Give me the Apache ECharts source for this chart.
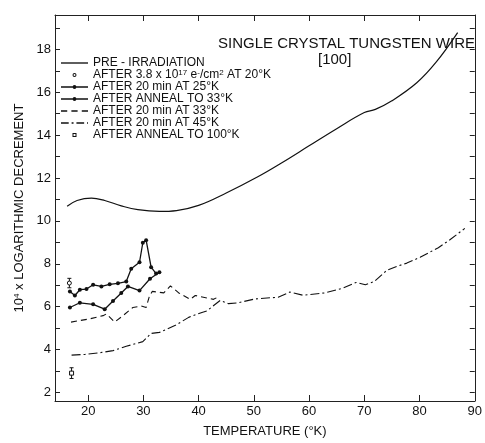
<!DOCTYPE html>
<html>
<head>
<meta charset="utf-8">
<script src="https://cdn.jsdelivr.net/npm/echarts@6/dist/echarts.min.js"></script>
<style>
html,body{margin:0;padding:0;background:#fff}
#main{width:485px;height:443px}
</style>
</head>
<body>
<div id="main"></div>
<script>
// temperature (K), 10^4 x log decrement
var preIrr = [[16.2,10.68],[18,10.95],[20.6,11.06],[23,10.95],[26,10.7],[29,10.52],[32.9,10.44],[36,10.48],[40,10.72],[45,11.3],[50.8,12.07],[55,12.7],[60,13.5],[65,14.3],[70,15.05],[72,15.2],[75,15.6],[79.5,16.44],[83,17.4],[86.9,18.78]];
var after25 = [[16.7,6.71],[17.6,6.52],[18.5,6.79],[19.7,6.82],[20.9,7.02],[22.4,6.94],[23.9,7.04],[25.4,7.09],[26.9,7.17],[27.8,7.77],[29.3,8.07],[29.9,8.98],[30.5,9.1],[31.4,7.84],[32.3,7.54]];
var anneal33 = [[16.7,5.96],[18.5,6.18],[20.9,6.11],[23,5.88],[24.5,6.26],[26,6.64],[27.2,6.94],[29.3,6.75],[31.2,7.3],[32.9,7.6]];
var after33 = [[16.9,5.28],[20.3,5.43],[22.7,5.58],[23.3,5.66],[24.8,5.28],[26.3,5.58],[28.1,5.96],[29.6,6.03],[30.5,5.96],[31.1,6.49],[31.6,6.71],[33.7,6.64],[34.9,6.97],[36.4,6.64],[38.5,6.34],[39.4,6.52],[42.7,6.34],[43.6,6.46]];
var after45 = [[17,3.74],[19.4,3.77],[22.1,3.85],[24.5,3.95],[26.9,4.15],[29.9,4.37],[31.4,4.75],[32.9,4.8],[35.8,5.13],[38.2,5.5],[40.6,5.73],[41.5,5.8],[43.9,6.29],[45.4,6.14],[47.2,6.18],[50.2,6.36],[54.4,6.44],[56.5,6.68],[58.9,6.53],[62.8,6.64],[66.1,6.86],[68.5,7.13],[70.2,7.02],[71.8,7.17],[74.1,7.7],[75.9,7.88],[77.7,8.03],[80.1,8.3],[83.4,8.75],[85.5,9.12],[88.2,9.65]];
// x, y, low, high
var irrPoint = [[16.6,7.1,6.88,7.32]];
var anneal100Point = [[17,2.9,2.65,3.15]];

var xTicks = [20,30,40,50,60,70,80,90];
var yTicks = [2,3,4,5,6,7,8,9,10,11,12,13,14,15,16,17,18,19];
var yLabels = [2,4,6,8,10,12,14,16,18];

var names = ['PRE - IRRADIATION',
    'AFTER 3.8 x 10{s|17} e{s|-}/cm{s|2} AT 20°K',
    'AFTER 20 min AT 25°K',
    'AFTER ANNEAL TO 33°K',
    'AFTER 20 min AT 33°K',
    'AFTER 20 min AT 45°K',
    'AFTER ANNEAL TO 100°K'];

// legend samples
var icoSolid = 'path://M0,0h28v1.4h-28z';
var icoDot = 'path://M0,1.3h28v1.4h-28z M12,2a2,2 0 1,1 4,0a2,2 0 1,1 -4,0z';
var icoDash = 'path://M0,0h6v1.4h-6z M10,0h6v1.4h-6z M20,0h6v1.4h-6z';
var icoDashDot = 'path://M0,0h8v1.4h-8z M11,0h2v1.4h-2z M16,0h8v1.4h-8z M27,0h1v1.4h-1z';
var icoCircle = 'path://M0,2a2,2 0 1,1 4,0a2,2 0 1,1 -4,0z M1,2a1,1 0 1,0 2,0a1,1 0 1,0 -2,0z';
var icoSquare = 'path://M0,0h4v4h-4z M1,1v2h2v-2z';

var fnt = 'Liberation Sans';

function errBar(shape){
    return function(params, api){
        var p = api.coord([api.value(0), api.value(1)]);
        var lo = api.coord([api.value(0), api.value(2)]);
        var hi = api.coord([api.value(0), api.value(3)]);
        var st = {stroke:'#111', lineWidth:1, fill:'none'};
        var mark = shape=='circle'
            ? {type:'circle', shape:{cx:p[0], cy:p[1], r:2}, style:{stroke:'#111', fill:'#fff', lineWidth:1}}
            : {type:'rect', shape:{x:p[0]-2, y:p[1]-2, width:4, height:4}, style:{stroke:'#111', fill:'#fff', lineWidth:1}};
        return {type:'group', children:[
            {type:'line', shape:{x1:lo[0], y1:lo[1], x2:hi[0], y2:hi[1]}, style:st},
            {type:'line', shape:{x1:lo[0]-2, y1:lo[1], x2:lo[0]+2, y2:lo[1]}, style:st},
            {type:'line', shape:{x1:hi[0]-2, y1:hi[1], x2:hi[0]+2, y2:hi[1]}, style:st},
            mark
        ]};
    };
}

var chart = echarts.init(document.getElementById('main'));
var option = {
    backgroundColor:'#fff',
    animation:false,
    title:[
        {text:'SINGLE CRYSTAL TUNGSTEN WIRE', left:213, top:31,
            textStyle:{fontFamily:fnt, fontSize:15, fontWeight:'normal', color:'#111'}},
        {text:'[100]', left:313, top:47,
            textStyle:{fontFamily:fnt, fontSize:15, fontWeight:'normal', color:'#111'}}
    ],
    grid:{left:55, right:7, top:15, bottom:30},
    legend:{
        orient:'vertical', left:61, top:57, padding:0,
        itemWidth:27, itemHeight:4, itemGap:0,
        textStyle:{fontFamily:fnt, fontSize:12, color:'#111', lineHeight:11.5,
            rich:{s:{fontSize:8, verticalAlign:'top', lineHeight:8, fontFamily:fnt, color:'#111'}}},
        data:[
            {name:names[0], icon:icoSolid},
            {name:names[1], icon:icoCircle},
            {name:names[2], icon:icoDot},
            {name:names[3], icon:icoDot},
            {name:names[4], icon:icoDash},
            {name:names[5], icon:icoDashDot},
            {name:names[6], icon:icoSquare}
        ]
    },
    xAxis:[{
        type:'value', min:14, max:90,
        name:'TEMPERATURE (°K)', nameLocation:'middle', nameGap:24,
        nameTextStyle:{fontFamily:fnt, fontSize:13, color:'#111'},
        axisLine:{lineStyle:{color:'#222', width:1}},
        axisTick:{inside:true, length:6, customValues:xTicks, lineStyle:{color:'#222'}},
        axisLabel:{customValues:xTicks, fontFamily:fnt, fontSize:13, color:'#111', margin:4},
        splitLine:{show:false}
    },{
        type:'value', min:14, max:90, position:'top',
        axisLine:{lineStyle:{color:'#222', width:1}},
        axisTick:{inside:true, length:6, customValues:xTicks, lineStyle:{color:'#222'}},
        axisLabel:{show:false},
        splitLine:{show:false}
    }],
    yAxis:[{
        type:'value', min:1.6, max:19.6,
        name:'10{s|4} x LOGARITHMIC DECREMENT', nameLocation:'middle', nameGap:27,
        nameTextStyle:{fontFamily:fnt, fontSize:13, color:'#111',
            rich:{s:{fontSize:8, verticalAlign:'top', lineHeight:8, fontFamily:fnt, color:'#111'}}},
        axisLine:{lineStyle:{color:'#222', width:1}},
        axisTick:{inside:true, length:5, customValues:yTicks, lineStyle:{color:'#222'}},
        axisLabel:{customValues:yLabels, fontFamily:fnt, fontSize:13, color:'#111', margin:4},
        splitLine:{show:false}
    },{
        type:'value', min:1.6, max:19.6, position:'right',
        axisLine:{lineStyle:{color:'#222', width:1}},
        axisTick:{inside:true, length:5, customValues:yTicks, lineStyle:{color:'#222'}},
        axisLabel:{show:false},
        splitLine:{show:false}
    }],
    series:[
        {name:names[0], type:'line', data:preIrr, smooth:0.4, symbol:'none',
            lineStyle:{color:'#111', width:1.2}, itemStyle:{color:'#111'}},
        {name:names[1], type:'custom', data:irrPoint, renderItem:errBar('circle'),
            itemStyle:{color:'#111', borderColor:'#111'}},
        {name:names[2], type:'line', data:after25, symbol:'circle', symbolSize:4,
            lineStyle:{color:'#111', width:1.3}, itemStyle:{color:'#111'}},
        {name:names[3], type:'line', data:anneal33, symbol:'circle', symbolSize:4,
            lineStyle:{color:'#111', width:1.3}, itemStyle:{color:'#111'}},
        {name:names[4], type:'line', data:after33, symbol:'none',
            lineStyle:{color:'#111', width:1.1, type:[6,4]}, itemStyle:{color:'#111'}},
        {name:names[5], type:'line', data:after45, symbol:'none',
            lineStyle:{color:'#111', width:1.1, type:[9,3,2,3]}, itemStyle:{color:'#111'}},
        {name:names[6], type:'custom', data:anneal100Point, renderItem:errBar('rect'),
            itemStyle:{color:'#111', borderColor:'#111'}}
    ]
};
chart.setOption(option);
</script>
</body>
</html>
